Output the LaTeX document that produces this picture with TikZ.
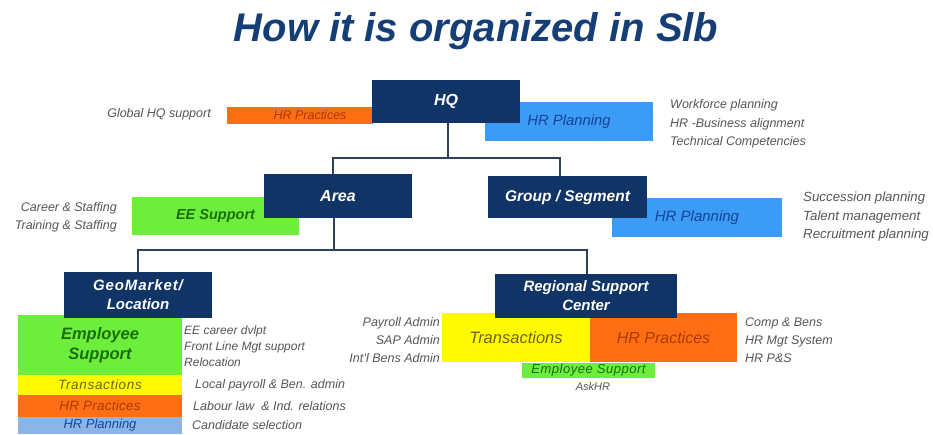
\documentclass[tikz,border=0pt]{standalone}
\usepackage{fontspec}
\setmainfont{Liberation Sans}
\newcommand{\ls}[1]{\addfontfeature{LetterSpace=#1}}
\begin{document}
\begin{tikzpicture}[x=1pt,y=-1pt,
  bx/.style={inner sep=0pt, outer sep=0pt, font=\itshape},
  navybox/.style={bx, fill=navy, text=white, font=\bfseries\itshape\fontsize{15.5}{17}\selectfont, align=center},
  orangebox/.style={bx, fill=sorange, text=orangetxt},
  bluebox/.style={bx, fill=sblue, text=bluetxt},
  greenbox/.style={bx, fill=sgreen, text=greentxt},
  yellowbox/.style={bx, fill=syellow, text=yellowtxt},
  lbluebox/.style={bx, fill=slblue, text=bluetxt},
  side/.style={inner sep=0pt, text=sidegray, font=\itshape\fontsize{12.5}{13}\selectfont},
  conn/.style={draw=connc, line width=2pt}
]
\definecolor{navy}{RGB}{16,52,102}
\definecolor{titlec}{RGB}{22,62,118}
\definecolor{sorange}{RGB}{255,110,20}
\definecolor{orangetxt}{RGB}{170,60,0}
\definecolor{sblue}{RGB}{60,155,245}
\definecolor{bluetxt}{RGB}{20,70,150}
\definecolor{sgreen}{RGB}{110,238,60}
\definecolor{greentxt}{RGB}{25,110,10}
\definecolor{syellow}{RGB}{255,250,0}
\definecolor{yellowtxt}{RGB}{110,100,0}
\definecolor{slblue}{RGB}{140,180,228}
\definecolor{sidegray}{RGB}{85,85,85}
\definecolor{connc}{RGB}{45,65,95}
\useasboundingbox (0,0) rectangle (933,434);

% title
\node[inner sep=0pt, text=titlec, font=\bfseries\itshape\fontsize{40}{44}\selectfont] (title) at (476,31) {How it is organized in Slb};

% connectors
\coordinate (j1) at (448,158);
\coordinate (j2) at (334,250);

% HQ level
\node[orangebox, minimum width=146pt, minimum height=17pt, font=\itshape\fontsize{12.5}{13}\selectfont] (hqpr) at (300,115.5) {\hspace{20pt}\raisebox{-3pt}{HR Practices}};
\node[bluebox, minimum width=168pt, minimum height=39pt, font=\itshape\fontsize{14.8}{16}\selectfont] (hqplan) at (569,121.5) {HR Planning};
\node[navybox, minimum width=148pt, minimum height=43pt, font=\bfseries\itshape\fontsize{16}{17}\selectfont] (hq) at (446,101.5) {HQ};

% Area level
\node[greenbox, minimum width=167pt, minimum height=38pt, font=\bfseries\itshape\fontsize{14.5}{16}\selectfont] (ees) at (215.5,216) {EE Support};
\node[navybox, minimum width=148pt, minimum height=44pt, font=\bfseries\itshape\fontsize{16}{17}\selectfont] (area) at (338,196) {Area};
\node[bluebox, minimum width=170pt, minimum height=39pt, font=\itshape\fontsize{15}{16}\selectfont] (gplan) at (697,217.5) {HR Planning};
\node[navybox, minimum width=159pt, minimum height=42pt] (grp) at (567.5,197) {Group / Segment};

\draw[conn] (hq.south -| j1) -- (j1);
\draw[conn] (area.north -| 333,0) |- (j1) -| (grp.north -| 560,0);
\draw[conn] (area.south -| j2) -- (j2);
\draw[conn] (j2) -| (138,272);
\draw[conn] (j2) -| (587,274);

% GeoMarket column
\node[greenbox, minimum width=164pt, minimum height=60pt, align=center, font=\bfseries\itshape\fontsize{16.5}{20}\selectfont] (emps) at (100,345) {Employee\\Support};
\node[yellowbox, minimum width=164pt, minimum height=20pt, font=\itshape\fontsize{13.5}{14}\selectfont\ls{5}] (gtr) at (100,385) {Transactions};
\node[orangebox, minimum width=164pt, minimum height=22pt, font=\itshape\fontsize{13.5}{14}\selectfont\ls{2}] (ghrp) at (100,406) {HR Practices};
\node[lbluebox, minimum width=164pt, minimum height=17pt, font=\itshape\fontsize{13}{14}\selectfont] (ghrpl) at (100,425.5) {\raisebox{-1pt}{HR Planning}};
\node[navybox, minimum width=148pt, minimum height=46pt, font=\bfseries\itshape\fontsize{15}{19}\selectfont] (geo) at (138,295) {{\ls{6}GeoMarket/}\\Location};

% Regional Support Center
\node[yellowbox, minimum width=148pt, minimum height=49pt, font=\itshape\fontsize{16.5}{17}\selectfont] (rtr) at (516,337.5) {\raisebox{-5pt}{Transactions}};
\node[orangebox, minimum width=147pt, minimum height=49pt, font=\itshape\fontsize{16}{17}\selectfont] (rhrp) at (663.5,337.5) {\raisebox{-5pt}{HR Practices}};
\node[greenbox, minimum width=133pt, minimum height=15pt, font=\itshape\fontsize{13}{13}\selectfont\ls{4}] (remp) at (588.5,370.5) {Employee Support};
\node[navybox, minimum width=182pt, minimum height=44pt, font=\bfseries\itshape\fontsize{15}{19}\selectfont] (rsc) at (586,296) {Regional Support\\Center};

% side texts
\node[side, anchor=east] (t1) at (211,114) {Global HQ support};
\node[side, anchor=west, align=left, font=\itshape\fontsize{12.5}{18.5}\selectfont] (t2) at (670,124) {Workforce planning\\HR -Business alignment\\Technical Competencies};
\node[side, anchor=east, align=right, font=\itshape\fontsize{12.5}{18}\selectfont] (t3) at (117,217) {Career \& Staffing\\Training \& Staffing};
\node[side, anchor=west, align=left, font=\itshape\fontsize{13.3}{18.5}\selectfont] (t4) at (803,217) {Succession planning\\Talent management\\Recruitment planning};
\node[side, anchor=west, align=left, font=\itshape\fontsize{12}{16}\selectfont] (t5) at (184,346) {EE career dvlpt\\Front Line Mgt support\\Relocation};
\node[side, anchor=west] (t6) at (195,385) {Local payroll \& Ben. admin};
\node[side, anchor=west] (t7) at (193,406) {Labour law \ \& Ind. relations};
\node[side, anchor=west] (t8) at (192,425) {Candidate selection};
\node[side, anchor=east, align=right, font=\itshape\fontsize{12.5}{18}\selectfont] (t9) at (440,340) {Payroll Admin\\SAP Admin\\Int'l Bens Admin};
\node[side, anchor=west, align=left, font=\itshape\fontsize{12.5}{18}\selectfont] (t10) at (745,340) {Comp \& Bens\\HR Mgt System\\HR P\&S};
\node[side, font=\itshape\fontsize{11}{12}\selectfont] (t11) at (593,387) {AskHR};
\end{tikzpicture}
\end{document}
